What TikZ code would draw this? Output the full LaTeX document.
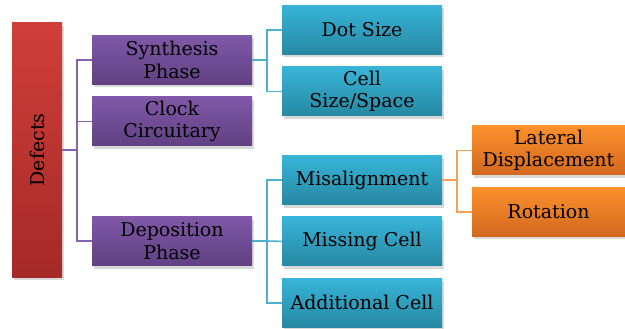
\documentclass[tikz,border=0pt]{standalone}
\usepackage{fontspec}
\setmainfont{DejaVu Serif}
\usepackage{graphicx}
\usetikzlibrary{positioning,shadows}
\definecolor{RedTop}{RGB}{208,62,56}
\definecolor{RedBot}{RGB}{165,42,40}
\definecolor{PurpTop}{RGB}{128,88,168}
\definecolor{PurpBot}{RGB}{96,64,130}
\definecolor{BlueTop}{RGB}{56,180,216}
\definecolor{BlueBot}{RGB}{38,136,162}
\definecolor{OrTop}{RGB}{252,144,44}
\definecolor{OrBot}{RGB}{210,104,30}
\definecolor{PurpLine}{RGB}{132,100,172}
\definecolor{BlueLine}{RGB}{76,176,206}
\definecolor{OrLine}{RGB}{246,160,84}

\begin{document}
\begin{tikzpicture}[x=1pt,y=-1pt,node distance=12pt,
  box/.style={minimum width=160pt,minimum height=49pt,align=center,inner sep=1pt,
    font=\fontsize{19}{22.5}\selectfont,
    drop shadow={shadow xshift=2pt,shadow yshift=-3pt,opacity=.3}},
  defbox/.style={box,minimum width=50pt,minimum height=254pt,top color=RedTop,bottom color=RedBot},
  phase/.style={box,top color=PurpTop,bottom color=PurpBot},
  kind/.style={box,top color=BlueTop,bottom color=BlueBot},
  sub/.style={box,minimum width=153pt,top color=OrTop,bottom color=OrBot},
  plink/.style={PurpLine,line width=1.6pt},
  blink/.style={BlueLine,line width=1.6pt},
  olink/.style={OrLine,line width=1.6pt}]
\useasboundingbox (0,0) rectangle (625,329);
\node[defbox] (def) at (37,150) {\rotatebox{90}{Defects}};
\node[phase] (syn) at (172,60) {Synthesis\\Phase};
\node[phase,below=of syn] (clk) {Clock\\Circuitary};
\node[phase] (dep) at (172,241) {Deposition\\Phase};
\node[kind] (dot) at (362,30) {Dot Size};
\node[kind,below=of dot] (cell) {Cell\\Size/Space};
\node[kind] (mis) at (362,180) {Misalignment};
\node[kind,below=of mis] (miss) {Missing Cell};
\node[kind,below=of miss] (add) {Additional Cell};
\node[sub] (lat) at (548.5,150.5) {Lateral\\Displacement};
\node[sub,below=of lat] (rot) {Rotation};
% tree links
\draw[plink] (def.east) -- ++(15,0) coordinate (pj);
\draw[plink] (syn.west) -| (pj);
\draw[plink] (dep.west) -| (pj);
\draw[plink] (clk.west) -- (clk.west -| pj);
\draw[blink] (syn.east) -- ++(15,0) coordinate (sj);
\draw[blink] (dot.west) -| (sj) |- (cell.west);
\draw[blink] (dep.east) -- ++(15,0) coordinate (dj);
\draw[blink] (mis.west) -| (dj) |- (add.west);
\draw[blink] (miss.west) -- (dj);
\draw[olink] (mis.east) -- ++(15,0) coordinate (mj);
\draw[olink] (lat.west) -| (mj) |- (rot.west);
\end{tikzpicture}
\end{document}
